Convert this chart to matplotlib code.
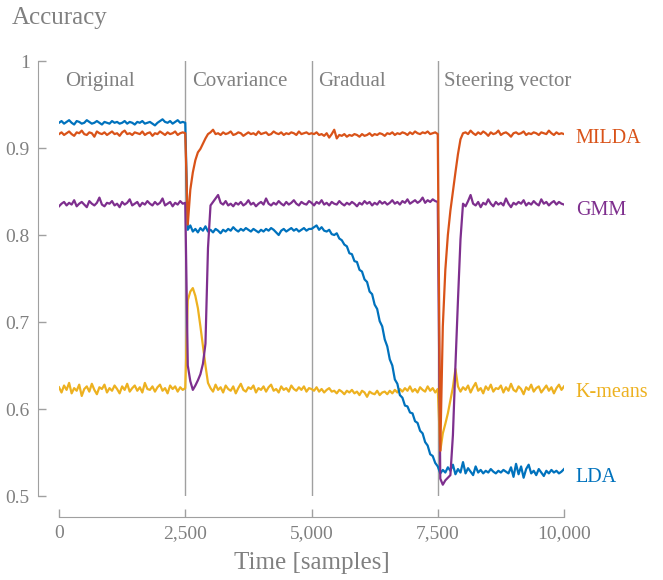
import numpy as np
import matplotlib
matplotlib.use('Agg')
import matplotlib.pyplot as plt

plt.rcParams['font.family'] = ['Liberation Serif', 'DejaVu Serif']

# time axis, one value every 50 samples
t = np.arange(0, 10001, 50)

milda = [
    0.916, 0.918, 0.915, 0.917, 0.919, 0.916, 0.914, 0.918, 0.917, 0.920, 0.916, 0.915, 0.918, 0.917, 0.913, 0.919, 0.917,
    0.916, 0.918, 0.915, 0.917, 0.919, 0.916, 0.917, 0.914, 0.918, 0.920, 0.916, 0.917, 0.915, 0.918, 0.917, 0.916, 0.919,
    0.915, 0.917, 0.918, 0.914, 0.917, 0.916, 0.919, 0.917, 0.915, 0.918, 0.916, 0.917, 0.919, 0.915, 0.917, 0.918, 0.917,
    0.812, 0.852, 0.872, 0.886, 0.895, 0.899, 0.905, 0.911, 0.916,
    0.918, 0.921, 0.916, 0.917, 0.915, 0.918, 0.916, 0.917, 0.919, 0.915, 0.916, 0.918, 0.917, 0.914, 0.916, 0.918, 0.916,
    0.917, 0.915, 0.919, 0.916, 0.917, 0.918, 0.915, 0.916, 0.919, 0.917, 0.916, 0.918, 0.915, 0.917, 0.916, 0.918, 0.917,
    0.915, 0.919, 0.916, 0.917, 0.918, 0.916,
    0.917, 0.916, 0.918, 0.915, 0.916, 0.914, 0.917, 0.912, 0.916, 0.921, 0.911, 0.915, 0.914, 0.916, 0.913, 0.915, 0.914,
    0.916, 0.915, 0.913, 0.916, 0.914, 0.915, 0.917, 0.914, 0.916, 0.915, 0.917, 0.916, 0.914, 0.917, 0.916, 0.918, 0.915,
    0.917, 0.916, 0.918, 0.917, 0.915, 0.918, 0.916, 0.919, 0.917, 0.916, 0.918, 0.917, 0.919, 0.916, 0.917, 0.918, 0.916,
    0.552, 0.695, 0.760, 0.800, 0.828, 0.850, 0.872, 0.893, 0.910, 0.917,
    0.918, 0.916, 0.920, 0.917, 0.915, 0.918, 0.916, 0.919, 0.917, 0.914, 0.918, 0.916, 0.917, 0.920, 0.915, 0.917, 0.918,
    0.916, 0.913, 0.917, 0.918, 0.916, 0.917, 0.919, 0.915, 0.917, 0.916, 0.918, 0.917, 0.915, 0.918, 0.917, 0.916, 0.920,
    0.917, 0.915, 0.918, 0.916, 0.917, 0.916,
]

gmm = [
    0.833, 0.836, 0.838, 0.834, 0.837, 0.835, 0.840, 0.833, 0.836, 0.838, 0.835, 0.832, 0.839, 0.836, 0.834, 0.837, 0.843,
    0.835, 0.833, 0.837, 0.836, 0.839, 0.834, 0.836, 0.832, 0.838, 0.835, 0.837, 0.841, 0.834, 0.836, 0.838, 0.833, 0.837,
    0.835, 0.839, 0.836, 0.834, 0.838, 0.835, 0.837, 0.842, 0.834, 0.836, 0.838, 0.833, 0.837, 0.835, 0.839, 0.836, 0.837,
    0.650, 0.632, 0.622, 0.627, 0.633, 0.640, 0.652, 0.675, 0.785, 0.834,
    0.838, 0.842, 0.846, 0.837, 0.835, 0.839, 0.834, 0.836, 0.833, 0.837, 0.835, 0.838, 0.834, 0.836, 0.840, 0.835, 0.837,
    0.833, 0.836, 0.838, 0.835, 0.842, 0.836, 0.834, 0.837, 0.835, 0.839, 0.836, 0.834, 0.838, 0.835, 0.837, 0.840, 0.836,
    0.834, 0.838, 0.836, 0.835, 0.839,
    0.837, 0.834, 0.838, 0.836, 0.840, 0.835, 0.837, 0.834, 0.838, 0.836, 0.835, 0.839, 0.836, 0.834, 0.837, 0.835, 0.838,
    0.836, 0.833, 0.837, 0.835, 0.839, 0.836, 0.838, 0.834, 0.837, 0.835, 0.839, 0.836, 0.838, 0.835, 0.837, 0.840, 0.836,
    0.838, 0.835, 0.839, 0.837, 0.841, 0.836, 0.838, 0.840, 0.837, 0.839, 0.843, 0.837, 0.840, 0.838, 0.841, 0.839, 0.838,
    0.520, 0.513, 0.518, 0.521, 0.524, 0.570, 0.650, 0.725, 0.795, 0.836,
    0.833, 0.839, 0.846, 0.836, 0.834, 0.838, 0.832, 0.837, 0.835, 0.841, 0.836, 0.833, 0.838, 0.835, 0.837, 0.834, 0.842,
    0.836, 0.832, 0.837, 0.835, 0.838, 0.836, 0.840, 0.834, 0.837, 0.835, 0.839, 0.836, 0.834, 0.841, 0.836, 0.838, 0.834,
    0.837, 0.839, 0.835, 0.838, 0.836, 0.835,
]

kmeans = [
    0.625, 0.619, 0.627, 0.622, 0.630, 0.618, 0.624, 0.621, 0.628, 0.615, 0.623, 0.626, 0.620, 0.629, 0.622, 0.617, 0.625,
    0.623, 0.628, 0.619, 0.624, 0.621, 0.627, 0.623, 0.618, 0.626, 0.622, 0.629, 0.620, 0.624, 0.627, 0.621, 0.625, 0.619,
    0.630, 0.623, 0.622, 0.626, 0.620, 0.625, 0.628, 0.621, 0.624, 0.618, 0.627, 0.623, 0.626, 0.620, 0.625, 0.622, 0.624,
    0.725, 0.735, 0.739, 0.730, 0.716, 0.695, 0.672, 0.650, 0.630, 0.624,
    0.620, 0.628, 0.622, 0.625, 0.619, 0.627, 0.623, 0.621, 0.626, 0.618, 0.624, 0.629, 0.622, 0.620, 0.625, 0.623, 0.627,
    0.619, 0.624, 0.622, 0.626, 0.620, 0.625, 0.628, 0.621, 0.623, 0.619, 0.626, 0.622, 0.624, 0.620, 0.627, 0.623, 0.621,
    0.625, 0.622, 0.626, 0.620, 0.624,
    0.623, 0.621, 0.625, 0.620, 0.623, 0.619, 0.622, 0.624, 0.620, 0.621, 0.618, 0.622, 0.620, 0.617, 0.621, 0.619, 0.622,
    0.618, 0.620, 0.616, 0.621, 0.619, 0.614, 0.620, 0.618, 0.617, 0.621, 0.616, 0.619, 0.620, 0.617, 0.621, 0.618, 0.622,
    0.619, 0.623, 0.620, 0.624, 0.621, 0.626, 0.620, 0.623, 0.619, 0.625, 0.622, 0.620, 0.626, 0.621, 0.624, 0.619, 0.623,
    0.552, 0.572, 0.583, 0.595, 0.610, 0.625, 0.646, 0.626, 0.620, 0.625,
    0.622, 0.627, 0.619, 0.625, 0.630, 0.621, 0.624, 0.618, 0.626, 0.622, 0.628, 0.620, 0.624, 0.623, 0.627, 0.619, 0.625,
    0.621, 0.629, 0.622, 0.620, 0.626, 0.623, 0.617, 0.625, 0.622, 0.628, 0.620, 0.624, 0.626, 0.619, 0.623, 0.627, 0.621,
    0.625, 0.618, 0.624, 0.628, 0.622, 0.626,
]

lda = [
    0.929, 0.931, 0.928, 0.930, 0.932, 0.929, 0.927, 0.931, 0.930, 0.928, 0.929, 0.932, 0.930, 0.928, 0.929, 0.931, 0.929,
    0.927, 0.930, 0.929, 0.928, 0.931, 0.929, 0.930, 0.928, 0.929, 0.931, 0.928, 0.930, 0.929, 0.927, 0.930, 0.929, 0.931,
    0.928, 0.929, 0.930, 0.928, 0.926, 0.929, 0.931, 0.933, 0.930, 0.929, 0.931, 0.928, 0.930, 0.932, 0.929, 0.930, 0.929,
    0.806, 0.811, 0.804, 0.807, 0.803, 0.808, 0.805, 0.810, 0.804, 0.806, 0.803, 0.807, 0.805, 0.802, 0.806, 0.804, 0.807,
    0.805, 0.809, 0.806, 0.804, 0.807, 0.805, 0.808, 0.806, 0.804, 0.807, 0.805, 0.803, 0.806, 0.804, 0.807, 0.805, 0.808,
    0.806, 0.803, 0.800, 0.805, 0.807, 0.804, 0.806, 0.808, 0.805, 0.807, 0.804, 0.806, 0.808, 0.805, 0.807,
    0.807, 0.809, 0.811, 0.806, 0.809, 0.805, 0.804, 0.806, 0.801, 0.800, 0.802, 0.796, 0.794, 0.789, 0.787, 0.779, 0.778,
    0.770, 0.769, 0.760, 0.758, 0.749, 0.746, 0.735, 0.732, 0.720, 0.715, 0.701, 0.695, 0.680, 0.672, 0.657, 0.650, 0.634,
    0.629, 0.616, 0.613, 0.604, 0.603, 0.596, 0.595, 0.586, 0.584, 0.575, 0.572, 0.562, 0.558, 0.548, 0.546, 0.538, 0.534,
    0.526, 0.530, 0.527, 0.533, 0.529, 0.536, 0.525, 0.531, 0.527, 0.539, 0.526, 0.532, 0.528, 0.524, 0.534, 0.527, 0.530,
    0.526, 0.529, 0.527, 0.531, 0.528, 0.526, 0.529, 0.527, 0.530, 0.528, 0.526, 0.533, 0.522, 0.537, 0.525, 0.534, 0.521,
    0.531, 0.536, 0.526, 0.529, 0.524, 0.531, 0.527, 0.523, 0.529, 0.526, 0.530, 0.527, 0.529, 0.526, 0.528, 0.531,
]

changes = [2500, 5000, 7500]
phases = ['Original', 'Covariance', 'Gradual', 'Steering vector']
xticks = [0, 2500, 5000, 7500, 10000]
xticklabels = ['0', '2,500', '5,000', '7,500', '10,000']
yticks = [0.5, 0.6, 0.7, 0.8, 0.9, 1.0]
yticklabels = ['0.5', '0.6', '0.7', '0.8', '0.9', '1']

grey = '#808080'
c_milda = '#D95319'
c_gmm = '#7E2F8E'
c_kmeans = '#EDB120'
c_lda = '#0072BD'

fig = plt.figure(figsize=(6.63, 5.8), dpi=100)
ax = fig.add_axes([0.089, 0.1448, 0.7617, 0.75])

for xc in changes:
    ax.axvline(xc, color='#a0a0a0', lw=1.0, zorder=1)

lw = 1.6
ax.plot(t, kmeans, color=c_kmeans, lw=lw, zorder=2)
ax.plot(t, lda, color=c_lda, lw=lw, zorder=3)
ax.plot(t, gmm, color=c_gmm, lw=lw, zorder=4)
ax.plot(t, milda, color=c_milda, lw=lw, zorder=5)

# phase names along the top
for x0, name in zip([0] + changes, phases):
    ax.text(x0 + 130, 0.976, name, color=grey, fontsize=15, va='center', ha='left')

# series names at the right end
style = dict(fontsize=14.5, va='center', ha='left', clip_on=False)
ax.text(10230, 0.9115, 'MILDA', color=c_milda, **style)
ax.text(10230, 0.8287, 'GMM', color=c_gmm, **style)
ax.text(10230, 0.6195, 'K-means', color=c_kmeans, **style)
ax.text(10230, 0.5218, 'LDA', color=c_lda, **style)

ax.set_xlim(0, 10000)
ax.set_ylim(0.5, 1.0)
ax.set_xticks(xticks)
ax.set_xticklabels(xticklabels)
ax.set_yticks(yticks)
ax.set_yticklabels(yticklabels)

for side in ['top', 'right']:
    ax.spines[side].set_visible(False)
for side in ['left', 'bottom']:
    ax.spines[side].set_color('#a0a0a0')
    ax.spines[side].set_position(('outward', 15))
ax.spines['left'].set_bounds(0.5, 1.0)
ax.spines['bottom'].set_bounds(0, 10000)

ax.tick_params(direction='in', length=6, width=1, color='#a0a0a0',
               labelcolor=grey, labelsize=14, pad=6)

ax.set_xlabel('Time [samples]', fontsize=18, color=grey, labelpad=7)
fig.text(12 / 663, 1 - 18 / 580, 'Accuracy', fontsize=18, color=grey, va='center', ha='left')

fig.savefig('out.png', dpi=100)
